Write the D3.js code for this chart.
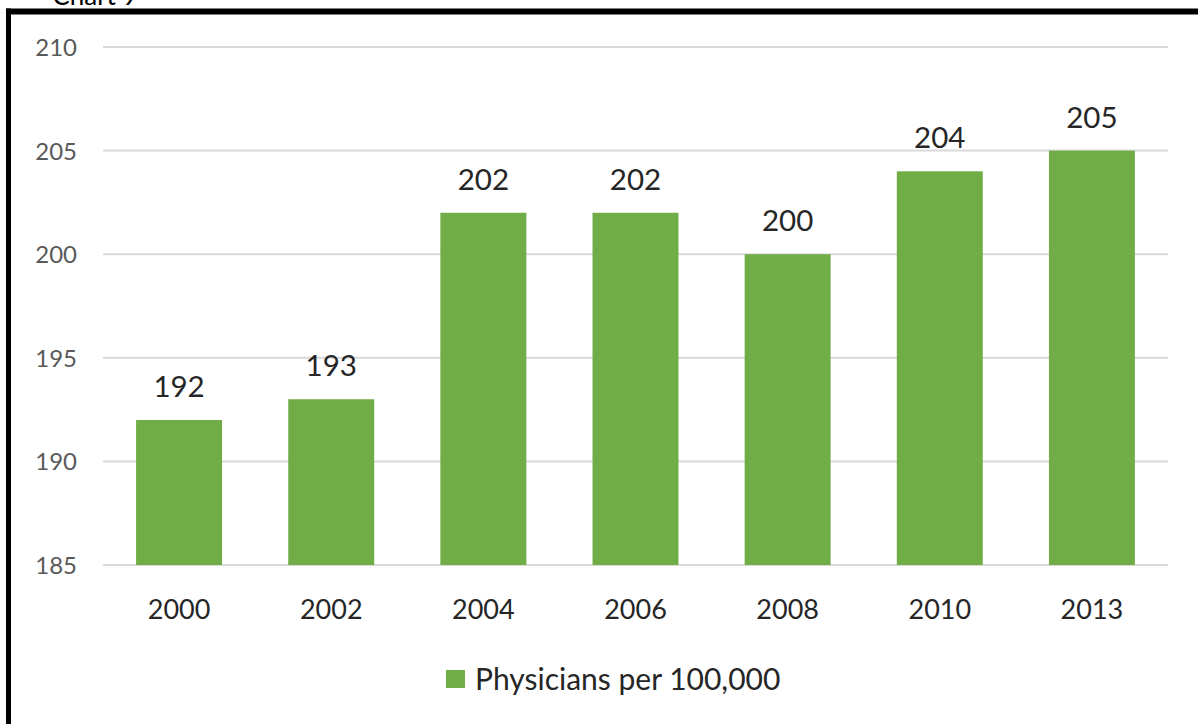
<!DOCTYPE html>
<html>
<head>
<meta charset="utf-8">
<script src="https://cdn.jsdelivr.net/npm/d3@7/dist/d3.min.js"></script>
<style>
  html, body { margin: 0; padding: 0; background: #fff; }
  svg { display: block; }
  text { font-family: Lato, "Open Sans", "Noto Sans", sans-serif; }
</style>
</head>
<body>
<svg id="chart" width="1198" height="724"></svg>
<script>
const years = ["2000", "2002", "2004", "2006", "2008", "2010", "2013"];
const physicians = [192, 193, 202, 202, 200, 204, 205];
const yTicks = [185, 190, 195, 200, 205, 210];
const seriesName = "Physicians per 100,000";
const chartTitle = "Chart 9";

const svg = d3.select("#chart");
const W = 1198, H = 724;
const plot = { left: 103, right: 1168, top: 47, bottom: 565 };
const green = "#70AD47";

// title (cut off at top, as in the source)
svg.append("text")
  .attr("x", 95).attr("y", 5)
  .attr("text-anchor", "middle")
  .attr("font-size", 26)
  .attr("fill", "#000")
  .text(chartTitle);

// frame
svg.append("line").attr("x1", 6).attr("x2", W).attr("y1", 11.5).attr("y2", 11.5)
  .attr("stroke", "#000").attr("stroke-width", 6);
svg.append("line").attr("x1", 8.5).attr("x2", 8.5).attr("y1", 8.5).attr("y2", H)
  .attr("stroke", "#000").attr("stroke-width", 5);

const x = d3.scaleBand().domain(years).range([plot.left, plot.right])
  .paddingInner(0.435).paddingOuter(0.2175);
const y = d3.scaleLinear().domain([185, 210]).range([plot.bottom, plot.top]);

// gridlines
svg.append("g").selectAll("line").data(yTicks).join("line")
  .attr("x1", plot.left).attr("x2", plot.right)
  .attr("y1", d => y(d)).attr("y2", d => y(d))
  .attr("stroke", "#d9d9d9").attr("stroke-width", 2);

// y axis labels
const yAxis = d3.axisLeft(y).tickValues(yTicks).tickSize(0).tickPadding(0);
const gy = svg.append("g").attr("transform", "translate(77,0)").call(yAxis);
gy.select(".domain").remove();
gy.selectAll("text")
  .attr("font-size", 24).attr("fill", "#595959")
  .attr("font-family", "Lato, 'Open Sans', sans-serif")
  .attr("dy", "0.35em");

// bars
svg.append("g").selectAll("rect").data(years).join("rect")
  .attr("x", d => x(d))
  .attr("width", x.bandwidth())
  .attr("y", (d, i) => y(physicians[i]))
  .attr("height", (d, i) => y(185) - y(physicians[i]))
  .attr("fill", green);

// data labels
svg.append("g").selectAll("text").data(years).join("text")
  .attr("x", d => x(d) + x.bandwidth() / 2)
  .attr("y", (d, i) => y(physicians[i]) - 23)
  .attr("text-anchor", "middle")
  .attr("font-size", 29.5)
  .attr("fill", "#262626")
  .text((d, i) => physicians[i]);

// x axis labels
const xAxis = d3.axisBottom(x).tickSize(0).tickPadding(0);
const gx = svg.append("g").attr("transform", `translate(0,${plot.bottom})`).call(xAxis);
gx.select(".domain").remove();
gx.selectAll("text")
  .attr("font-size", 27).attr("fill", "#262626")
  .attr("font-family", "Lato, 'Open Sans', sans-serif")
  .attr("y", 54).attr("dy", 0);

// legend
const lg = svg.append("g");
lg.append("rect").attr("x", 446).attr("y", 670).attr("width", 19).attr("height", 18).attr("fill", green);
lg.append("text").attr("x", 475).attr("y", 690)
  .attr("font-size", 30).attr("fill", "#262626")
  .text(seriesName);
</script>
</body>
</html>
